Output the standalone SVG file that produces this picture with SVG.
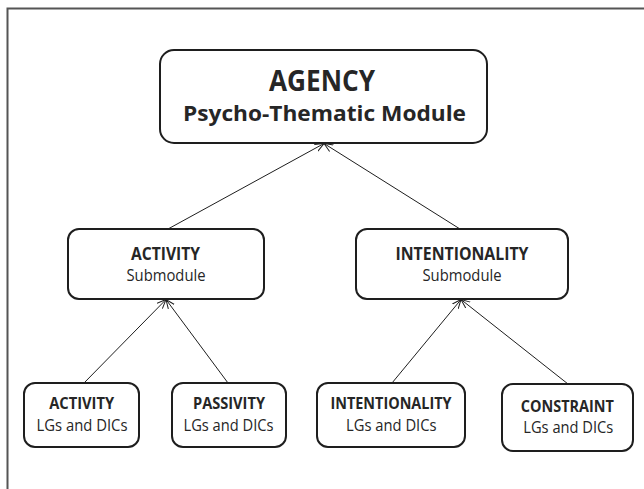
<svg xmlns="http://www.w3.org/2000/svg" width="644" height="489" viewBox="0 0 644 489">
<defs>
<style>
.frame{fill:none;stroke:#555555;stroke-width:2}
.box{fill:#ffffff;stroke:#1e1e1e;stroke-width:2}
.edge{fill:none;stroke:#1e1e1e;stroke-width:1}
text{font-family:"Open Sans","Liberation Sans",sans-serif;fill:#262626;text-anchor:middle}
.b{font-weight:bold}
</style>
<marker id="arr" viewBox="0 0 10 10" refX="10" refY="5" markerWidth="9" markerHeight="9" markerUnits="userSpaceOnUse" orient="auto">
<path d="M0,0.8 L10,5 L0,9.2" fill="none" stroke="#1e1e1e" stroke-width="1.1"/>
</marker>
</defs>
<rect width="644" height="489" fill="#ffffff"/>
<path class="frame" d="M7.5,489 V8.5 H644"/>
<g id="connectors">
<line class="edge" x1="168" y1="229" x2="324" y2="143.5" marker-end="url(#arr)"/>
<line class="edge" x1="460" y1="229" x2="324" y2="143.5" marker-end="url(#arr)"/>
<line class="edge" x1="84" y1="383" x2="166" y2="299.5" marker-end="url(#arr)"/>
<line class="edge" x1="228" y1="383" x2="166" y2="299.5" marker-end="url(#arr)"/>
<line class="edge" x1="392" y1="383" x2="461" y2="299.5" marker-end="url(#arr)"/>
<line class="edge" x1="568" y1="384" x2="461" y2="299.5" marker-end="url(#arr)"/>
</g>
<g id="agency">
<rect class="box" x="160" y="50" width="327" height="93" rx="14"/>
<text class="b" x="322" y="91" font-size="29" textLength="106" lengthAdjust="spacingAndGlyphs">AGENCY</text>
<text class="b" x="324.5" y="121" font-size="22" textLength="283" lengthAdjust="spacingAndGlyphs">Psycho-Thematic Module</text>
</g>
<g id="activity-sub">
<rect class="box" x="68" y="229" width="196" height="70" rx="11"/>
<text class="b" x="165.5" y="260" font-size="17" textLength="69" lengthAdjust="spacingAndGlyphs">ACTIVITY</text>
<text x="166" y="281" font-size="16.5" textLength="79" lengthAdjust="spacingAndGlyphs">Submodule</text>
</g>
<g id="intentionality-sub">
<rect class="box" x="356" y="229" width="212" height="70" rx="11"/>
<text class="b" x="462" y="260" font-size="17" textLength="133" lengthAdjust="spacingAndGlyphs">INTENTIONALITY</text>
<text x="462" y="281" font-size="16.5" textLength="79" lengthAdjust="spacingAndGlyphs">Submodule</text>
</g>
<g id="activity-lgs">
<rect class="box" x="24" y="383" width="115" height="64" rx="11"/>
<text class="b" x="81.7" y="409" font-size="15.5" textLength="65" lengthAdjust="spacingAndGlyphs">ACTIVITY</text>
<text x="82" y="430.5" font-size="16.5" textLength="91" lengthAdjust="spacingAndGlyphs">LGs and DICs</text>
</g>
<g id="passivity-lgs">
<rect class="box" x="172" y="383" width="114" height="64" rx="11"/>
<text class="b" x="229" y="409" font-size="15.5" textLength="72" lengthAdjust="spacingAndGlyphs">PASSIVITY</text>
<text x="228.5" y="430.5" font-size="16.5" textLength="90" lengthAdjust="spacingAndGlyphs">LGs and DICs</text>
</g>
<g id="intentionality-lgs">
<rect class="box" x="317" y="383" width="148" height="64" rx="11"/>
<text class="b" x="391" y="409" font-size="15.5" textLength="121" lengthAdjust="spacingAndGlyphs">INTENTIONALITY</text>
<text x="391.3" y="430.5" font-size="16.5" textLength="90.5" lengthAdjust="spacingAndGlyphs">LGs and DICs</text>
</g>
<g id="constraint-lgs">
<rect class="box" x="502" y="384" width="131" height="67" rx="11"/>
<text class="b" x="567.3" y="412" font-size="15.5" textLength="93" lengthAdjust="spacingAndGlyphs">CONSTRAINT</text>
<text x="568.3" y="433" font-size="16.5" textLength="90" lengthAdjust="spacingAndGlyphs">LGs and DICs</text>
</g>
</svg>
